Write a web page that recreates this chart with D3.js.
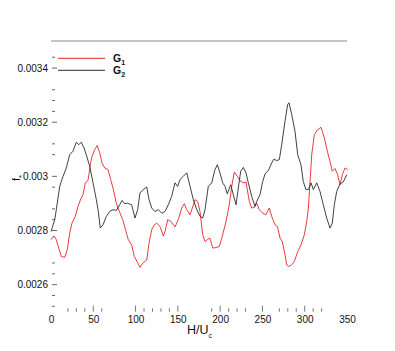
<!DOCTYPE html>
<html>
<head>
<meta charset="utf-8">
<script src="https://cdn.jsdelivr.net/npm/d3@7"></script>
<style>
  body { margin: 0; background: #fff; }
  svg { display: block; font-family: "Liberation Sans", Arial, sans-serif; }
</style>
</head>
<body>
<svg width="395" height="351"></svg>
<script>
// H/U_c positions and f* values
const g1 = [ // red
  [0,0.002766],[3.5,0.002780],[6.3,0.002766],[9.1,0.002735],[12.2,0.002704],[16.2,0.002701],
  [19.3,0.002729],[22.1,0.002790],[24.8,0.002827],[28.7,0.002852],[31.9,0.002889],[35.1,0.002916],
  [37.8,0.002932],[40.6,0.002976],[43.8,0.002985],[46.9,0.003050],[48.5,0.003074],[51.7,0.003099],
  [54.7,0.003114],[57.6,0.003087],[60.3,0.003050],[63.5,0.003031],[67.4,0.003025],[70.6,0.002988],
  [73.3,0.002957],[77.2,0.002901],[81.2,0.002867],[85.1,0.002837],[87.9,0.002805],[91.4,0.002766],
  [95.4,0.002747],[98.5,0.002704],[102.5,0.002681],[105.2,0.002664],[109.1,0.002681],[113.2,0.002691],
  [115.9,0.002753],[119.1,0.002803],[122.2,0.002821],[125.0,0.002827],[128.9,0.002815],[132.8,0.002780],
  [134.8,0.002796],[138.0,0.002840],[141.9,0.002833],[146.6,0.002813],[150.5,0.002840],[154.6,0.002883],
  [157.6,0.002899],[160.5,0.002877],[164.4,0.002858],[167.1,0.002883],[170.3,0.002914],[173.5,0.002907],
  [176.2,0.002870],[179.4,0.002784],[182.1,0.002759],[184.8,0.002766],[188.0,0.002772],[191.2,0.002735],
  [195.1,0.002737],[199.0,0.002741],[203.0,0.002784],[206.9,0.002833],[210.8,0.002895],[213.7,0.002963],
  [216.8,0.003016],[220.3,0.003000],[223.5,0.002984],[227.4,0.002976],[230.6,0.002979],[234.5,0.002907],
  [237.3,0.002883],[240.4,0.002885],[243.2,0.002901],[246.3,0.002877],[250.3,0.002864],[254.2,0.002858],
  [258.1,0.002883],[261.0,0.002852],[264.9,0.002821],[267.8,0.002815],[270.8,0.002772],[273.5,0.002759],
  [276.7,0.002710],[278.7,0.002673],[281.4,0.002667],[284.6,0.002673],[287.7,0.002685],[291.7,0.002722],
  [295.6,0.002747],[299.5,0.002784],[302.4,0.002833],[304.3,0.002883],[306.3,0.002981],[308.3,0.003080],
  [311.4,0.003154],[315.4,0.003173],[319.3,0.003181],[323.2,0.003142],[327.2,0.003087],[329.9,0.003056],
  [332.6,0.003019],[335.8,0.003029],[339.0,0.003006],[341.7,0.002969],[344.5,0.003006],[347.6,0.003031],
  [350.8,0.003025]
];
const g2 = [ // black
  [0,0.002796],[4.4,0.002840],[6.3,0.002877],[10.3,0.002963],[14.2,0.003000],[18.1,0.003031],
  [22.1,0.003080],[26.0,0.003093],[29.9,0.003126],[32.8,0.003117],[35.8,0.003126],[39.0,0.003105],
  [41.7,0.003080],[45.8,0.003037],[49.7,0.002976],[53.6,0.002914],[55.6,0.002877],[58.3,0.002809],
  [61.5,0.002821],[65.4,0.002852],[69.4,0.002870],[73.3,0.002877],[77.2,0.002874],[81.2,0.002895],
  [84.0,0.002911],[87.1,0.002899],[90.2,0.002901],[95.4,0.002895],[99.3,0.002846],[102.5,0.002877],
  [105.2,0.002939],[109.1,0.002951],[113.2,0.002961],[115.9,0.002914],[119.1,0.002883],[123.0,0.002870],
  [126.9,0.002877],[130.9,0.002864],[134.8,0.002870],[138.7,0.002895],[142.7,0.002926],[146.6,0.002976],
  [149.8,0.002963],[152.5,0.002988],[156.4,0.003000],[160.5,0.003013],[164.4,0.002963],[168.3,0.002914],
  [172.3,0.002877],[176.2,0.002852],[179.4,0.002846],[182.1,0.002877],[186.0,0.002963],[190.0,0.002976],
  [193.9,0.003025],[196.7,0.003043],[199.8,0.003013],[203.0,0.002976],[205.8,0.002963],[208.5,0.002935],
  [212.5,0.002969],[215.6,0.002932],[218.8,0.002895],[221.5,0.002957],[224.3,0.003019],[227.4,0.003033],
  [230.6,0.003013],[233.3,0.002976],[237.3,0.002926],[241.2,0.002889],[243.2,0.002907],[247.1,0.002932],
  [250.3,0.002981],[253.1,0.003009],[257.0,0.003021],[261.0,0.003050],[263.7,0.003064],[266.9,0.003058],
  [270.0,0.003062],[272.8,0.003117],[276.7,0.003204],[279.9,0.003266],[281.4,0.003272],[284.6,0.003229],
  [288.5,0.003167],[291.7,0.003080],[295.6,0.003043],[298.3,0.002981],[301.5,0.002951],[304.3,0.002951],
  [307.5,0.002976],[310.2,0.002951],[314.2,0.002976],[318.1,0.002944],[322.0,0.002895],[326.0,0.002846],
  [329.9,0.002809],[332.6,0.002827],[335.0,0.002895],[337.8,0.002944],[341.7,0.002972],[345.6,0.002979],
  [349.7,0.003006]
];

const xMajor = [0, 50, 100, 150, 200, 250, 300, 350];
const xMinor = [20, 30, 40, 60, 110, 120, 130, 140, 190, 210, 220, 230, 270, 280, 290, 310, 320];
const yMajor = [0.0026, 0.0028, 0.003, 0.0032, 0.0034];
const yLabels = ['0.0026', '0.0028', '0.003', '0.0032', '0.0034'];
const yMinor = [0.00252, 0.00256, 0.00264, 0.00268, 0.00284, 0.00288, 0.00296, 0.00308, 0.00312,
                0.00324, 0.00328, 0.00332, 0.00344];
const seriesNames = ['1', '2']; // G subscripts
const seriesColors = ['#e8262a', '#2b2b2b'];

const svg = d3.select('svg');

const x = d3.scaleLinear().domain([0, 350]).range([51, 347]);
const y = d3.scaleLinear().domain([0.0025, 0.0035]).range([311.7, 41]);

const g = svg.append('g');

// top frame line
g.append('line')
  .attr('x1', x(0)).attr('x2', x(350))
  .attr('y1', y(0.0035)).attr('y2', y(0.0035))
  .attr('stroke', '#8a8a8a').attr('stroke-width', 1);

// y ticks (pointing inward)
g.selectAll('.ymaj').data(yMajor).enter().append('line')
  .attr('x1', x(0) + 1).attr('x2', x(0) + 6)
  .attr('y1', d => y(d)).attr('y2', d => y(d))
  .attr('stroke', '#666').attr('stroke-width', 1);
g.selectAll('.ymin').data(yMinor).enter().append('line')
  .attr('x1', x(0) + 1).attr('x2', x(0) + 4)
  .attr('y1', d => y(d)).attr('y2', d => y(d))
  .attr('stroke', '#666').attr('stroke-width', 1);
g.selectAll('.ylab').data(yMajor).enter().append('text')
  .attr('x', x(0) - 3)
  .attr('y', d => y(d))
  .attr('dy', '0.35em')
  .attr('text-anchor', 'end')
  .attr('font-size', '10px')
  .attr('fill', '#111')
  .text((d, i) => yLabels[i]);

// x ticks (pointing up)
g.selectAll('.xmaj').data(xMajor.slice(1, -1)).enter().append('line')
  .attr('x1', d => x(d)).attr('x2', d => x(d))
  .attr('y1', y(0.0025)).attr('y2', y(0.0025) - 6)
  .attr('stroke', '#777').attr('stroke-width', 1);
g.selectAll('.xmin').data(xMinor).enter().append('line')
  .attr('x1', d => x(d)).attr('x2', d => x(d))
  .attr('y1', y(0.0025)).attr('y2', y(0.0025) - 3.5)
  .attr('stroke', '#777').attr('stroke-width', 1);
g.selectAll('.xlab').data(xMajor).enter().append('text')
  .attr('x', d => x(d) + 0.5)
  .attr('y', y(0.0025) + 11)
  .attr('text-anchor', 'middle')
  .attr('font-size', '10px')
  .attr('fill', '#111')
  .text(d => d);

// axis titles
const xt = g.append('text')
  .attr('x', 187).attr('y', 334)
  .attr('font-size', '12.5px')
  .attr('fill', '#111');
xt.append('tspan').text('H/U');
xt.append('tspan').attr('dy', 4).attr('font-size', '7px').text('c');

const yt = g.append('text')
  .attr('transform', 'translate(20,181) rotate(-90)')
  .attr('font-size', '11px')
  .attr('fill', '#111');
yt.append('tspan').text('f');
yt.append('tspan').attr('dy', 4).attr('font-size', '8px').text('*');

// curves
const line = d3.line()
  .x(d => x(d[0]))
  .y(d => y(d[1]));

[g1, g2].forEach((s, i) => {
  g.append('path')
    .datum(s)
    .attr('d', line)
    .attr('fill', 'none')
    .attr('stroke', seriesColors[i])
    .attr('stroke-width', 0.9);
});

// legend
const legend = g.selectAll('.leg').data(seriesNames).enter().append('g')
  .attr('transform', (d, i) => `translate(58, ${58.3 + i * 12})`);
legend.append('line')
  .attr('x1', 0).attr('x2', 47)
  .attr('stroke', (d, i) => seriesColors[i])
  .attr('stroke-width', 1);
const lt = legend.append('text')
  .attr('x', 55).attr('y', 3.5)
  .attr('font-size', '10.5px')
  .attr('font-weight', 'bold')
  .attr('fill', '#111');
lt.append('tspan').text('G');
lt.append('tspan').attr('dy', 3).attr('font-size', '7px').text(d => d);
</script>
</body>
</html>
